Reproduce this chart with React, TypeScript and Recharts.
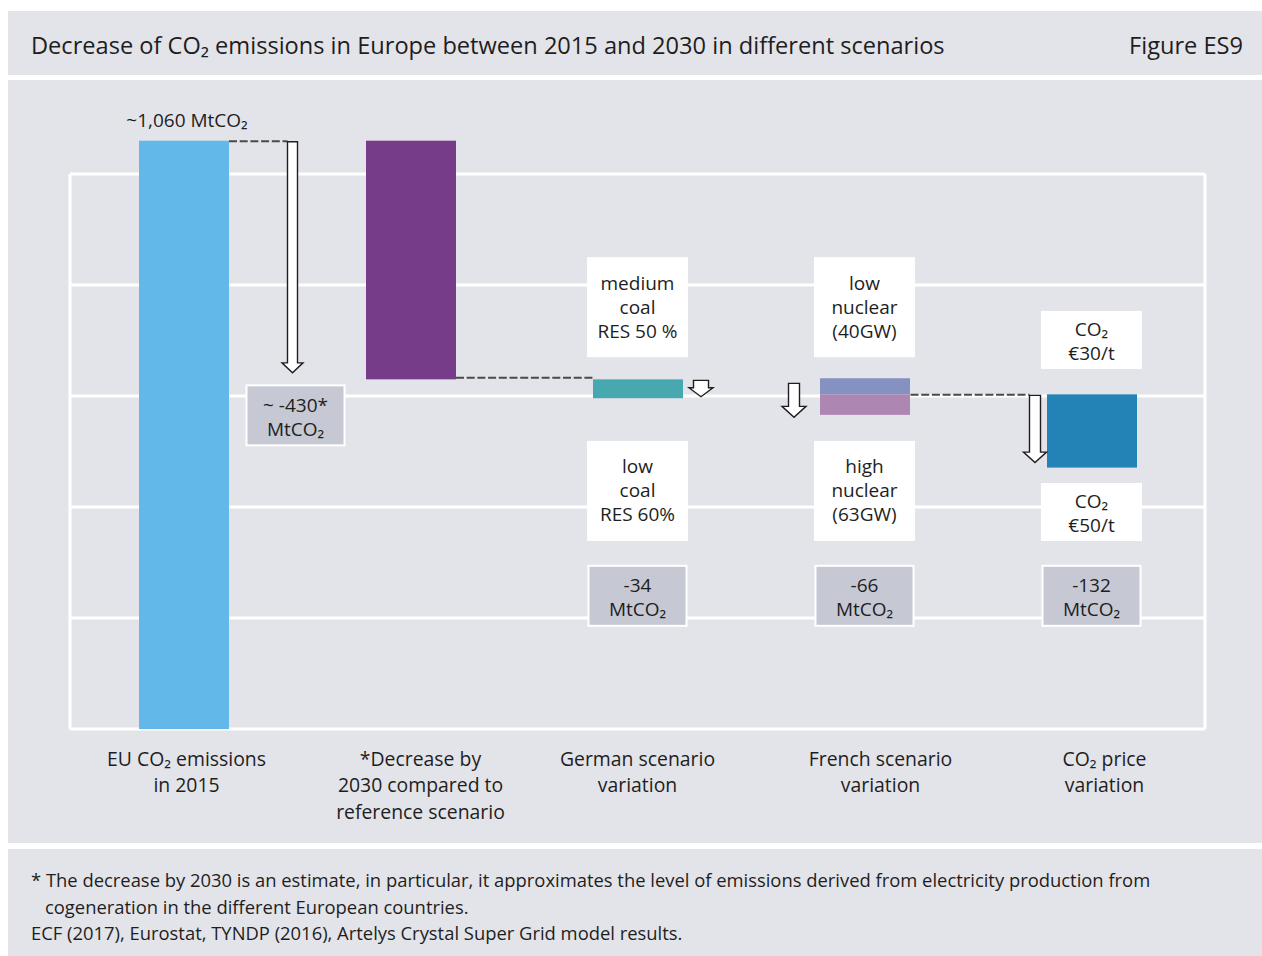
import React from 'react';
import { ComposedChart, Bar, XAxis, YAxis, ReferenceLine, ReferenceDot } from 'recharts';

// ---------- data ----------
const categoryKeys = ['eu2015', 'decrease2030', 'german', 'french', 'co2price'];
const categoryLabels = [
  ['EU CO₂ emissions', 'in 2015'],
  ['*Decrease by', '2030 compared to', 'reference scenario'],
  ['German scenario', 'variation'],
  ['French scenario', 'variation'],
  ['CO₂ price', 'variation'],
];
const baseValues = [0, 630, 596, 566, 471];
const lowerSegment = [1060, 430, 34, 37, 132];
const upperSegment = [0, 0, 0, 29, 0];
const deltaLabels = ['', '~ -430*', '-34', '-66', '-132'];
const upperScenario = [[], [], ['medium', 'coal', 'RES 50 %'], ['low', 'nuclear', '(40GW)'], ['CO₂', '€30/t']];
const lowerScenario = [[], [], ['low', 'coal', 'RES 60%'], ['high', 'nuclear', '(63GW)'], ['CO₂', '€50/t']];
const totalLabel = '~1,060 MtCO₂';
const unitLabel = 'MtCO₂';
const yTicks = [0, 200, 400, 600, 800, 1000];

const title = 'Decrease of CO₂ emissions in Europe between 2015 and 2030 in different scenarios';
const figureLabel = 'Figure ES9';
const footnote1 = '* The decrease by 2030 is an estimate, in particular, it approximates the level of emissions derived from electricity production from';
const footnote2 = 'cogeneration in the different European countries.';
const source = 'ECF (2017), Eurostat, TYNDP (2016), Artelys Crystal Super Grid model results.';

// ---------- styles ----------
const FONT = "'Open Sans', 'DejaVu Sans', sans-serif";
const PANEL = '#e3e4e9';
const TEXT = '#1e1e1e';
const lowerColors = ['#63b8ea', '#773c89', '#47a8b0', '#ae86b2', '#2383b7'];
const upperColors = ['none', 'none', 'none', '#8592c1', 'none'];
const DELTA_FILL = '#c6c8d4';
const TICK_NUDGE = [3, 10, 0, 16, 13];
// vertical anchor of annotation boxes (in value units)
const BOX_POS = { upper3: 760, lower3: 429, upper2: 701, lower2: 391, delta: 240 };

const data = categoryKeys.map((k, i) => ({
  key: k,
  base: baseValues[i],
  lower: lowerSegment[i],
  upper: upperSegment[i],
}));

function arrowPath(cx: number, top: number, tip: number, sw: number, hw: number, hh: number) {
  const s = sw / 2;
  const h = hw / 2;
  const b = tip - hh;
  return `M${cx - s},${top} L${cx + s},${top} L${cx + s},${b} L${cx + h},${b} L${cx},${tip} L${cx - h},${b} L${cx - s},${b} Z`;
}

const Arrow = (p: { cx: number; top: number; tip: number; sw: number; hw: number; hh: number }) => (
  <path d={arrowPath(p.cx, p.top, p.tip, p.sw, p.hw, p.hh)} fill="#fff" stroke={TEXT} strokeWidth={1.4} strokeLinejoin="miter" />
);

const Dash = (p: { x1: number; x2: number; y: number }) => (
  <line x1={p.x1} x2={p.x2} y1={p.y} y2={p.y} stroke="#4a4a4a" strokeWidth={2} strokeDasharray="8 2.7" />
);

const TextBox = (p: { cx: number; cy: number; w: number; h: number; lines: string[]; fill: string; stroke?: string }) => {
  const n = p.lines.length;
  const off = n === 2 ? 8.5 : 6.5;
  return (
    <g>
      <rect x={p.cx - p.w / 2} y={p.cy - p.h / 2} width={p.w} height={p.h} fill={p.fill} stroke={p.stroke || 'none'} strokeWidth={2} />
      {p.lines.map((l, i) => (
        <text key={i} x={p.cx} y={p.cy - ((n - 1) * 24) / 2 + i * 24 + off} textAnchor="middle" fontFamily={FONT} fontSize={19} fill={TEXT}>
          {l}
        </text>
      ))}
    </g>
  );
};

const renderLower = (props: any) => {
  const { x, y, width, height, index } = props;
  const fill = lowerColors[index];
  const parts: React.ReactNode[] = [<rect key="r" x={x} y={y} width={width} height={height} fill={fill} />];
  if (index === 0) {
    parts.push(
      <text key="t" x={x + width / 2 + 3} y={y - 14} textAnchor="middle" fontFamily={FONT} fontSize={19} fill={TEXT}>
        {totalLabel}
      </text>
    );
  }
  if (index === 1) {
    const acx = x - 73.5;
    parts.push(<Dash key="d1" x1={x - 137} x2={acx - 5} y={y + 0.5} />);
    parts.push(<Arrow key="a" cx={acx} top={y + 1} tip={y + height - 6.5} sw={10} hw={21} hh={10} />);
    parts.push(<Dash key="d2" x1={x + width} x2={x + width + 138} y={y + height - 1.5} />);
    parts.push(
      <TextBox key="b" cx={x - 70.5} cy={y + height + 36} w={98} h={60} lines={[deltaLabels[1], unitLabel]} fill={DELTA_FILL} stroke="#fff" />
    );
  }
  if (index === 2) {
    parts.push(<Arrow key="a" cx={x + width + 18} top={y + 1} tip={y + height - 1.5} sw={15} hw={24} hh={9} />);
  }
  if (index === 3) {
    parts.push(<Arrow key="a" cx={x - 26} top={y - 11} tip={y + height + 2.5} sw={11} hw={24} hh={11} />);
  }
  if (index === 4) {
    parts.push(<Dash key="d" x1={x - 136.5} x2={x - 17.5} y={y + 0.5} />);
    parts.push(<Arrow key="a" cx={x - 12} top={y + 1} tip={y + height - 5} sw={11} hw={23} hh={10.5} />);
  }
  return <g>{parts}</g>;
};

const renderUpper = (props: any) => {
  const { x, y, width, height, index } = props;
  if (!height || upperColors[index] === 'none') return <g />;
  return <rect x={x} y={y} width={width} height={height} fill={upperColors[index]} />;
};

const CategoryTick = (props: any) => {
  const { x, y, payload } = props;
  const i = categoryKeys.indexOf(payload.value);
  const lines = categoryLabels[i] || [];
  return (
    <g>
      {lines.map((l, k) => (
        <text key={k} x={x + TICK_NUDGE[i]} y={y + 36.5 + k * 26.5} textAnchor="middle" fontFamily={FONT} fontSize={19.4} fill={TEXT}>
          {l}
        </text>
      ))}
    </g>
  );
};

const boxShape = (lines: string[], w: number, h: number, fill: string, stroke?: string) => (p: any) => (
  <TextBox cx={p.cx} cy={p.cy} w={w} h={h} lines={lines} fill={fill} stroke={stroke} />
);

export default function App() {
  const dots: React.ReactNode[] = [];
  categoryKeys.forEach((k, i) => {
    if (upperScenario[i].length) {
      const three = upperScenario[i].length === 3;
      dots.push(
        <ReferenceDot key={'u' + k} x={k} y={three ? BOX_POS.upper3 : BOX_POS.upper2} r={1}
          shape={boxShape(upperScenario[i], 101, three ? 100 : 58, '#fff')} />
      );
    }
    if (lowerScenario[i].length) {
      const three = lowerScenario[i].length === 3;
      dots.push(
        <ReferenceDot key={'l' + k} x={k} y={three ? BOX_POS.lower3 : BOX_POS.lower2} r={1}
          shape={boxShape(lowerScenario[i], 101, three ? 100 : 58, '#fff')} />
      );
    }
    if (i >= 2) {
      dots.push(
        <ReferenceDot key={'d' + k} x={k} y={BOX_POS.delta} r={1}
          shape={boxShape([deltaLabels[i], unitLabel], 98, 60, DELTA_FILL, '#fff')} />
      );
    }
  });

  const zProps: any = { zIndex: -10 };

  return (
    <div style={{ position: 'absolute', left: 0, top: 0, width: 1262, height: 956, background: '#fff', overflow: 'hidden', fontFamily: FONT, color: TEXT }}>
      <div style={{ position: 'absolute', left: 8, top: 11, width: 1254, height: 64, background: PANEL }}>
        <div style={{ position: 'absolute', left: 23, top: 19, fontSize: 23.6, lineHeight: '30px', whiteSpace: 'nowrap' }}>{title}</div>
        <div style={{ position: 'absolute', right: 19, top: 19, fontSize: 23.6, lineHeight: '30px', whiteSpace: 'nowrap' }}>{figureLabel}</div>
      </div>
      <div style={{ position: 'absolute', left: 8, top: 80, width: 1254, height: 763, background: PANEL }}>
        <ComposedChart width={1254} height={763} data={data} margin={{ top: 38.5, right: 57, bottom: 14, left: 62 }} barSize={90}>
          <XAxis dataKey="key" height={100} tickLine={false} axisLine={false} tickSize={0} tickMargin={0} interval={0} tick={<CategoryTick />} />
          <YAxis hide type="number" domain={[0, 1100]} ticks={yTicks} />
          {yTicks.map((t) => (
            <ReferenceLine key={'g' + t} y={t} stroke="#fff" strokeWidth={3} {...zProps} />
          ))}
          <ReferenceLine segment={[{ x: categoryKeys[0], y: 0 }, { x: categoryKeys[0], y: 1000 }]} position="start" stroke="#fff" strokeWidth={3} {...zProps} />
          <ReferenceLine segment={[{ x: categoryKeys[4], y: 0 }, { x: categoryKeys[4], y: 1000 }]} position="end" stroke="#fff" strokeWidth={3} {...zProps} />
          <Bar dataKey="base" stackId="s" fill="transparent" isAnimationActive={false} />
          <Bar dataKey="lower" stackId="s" shape={renderLower} isAnimationActive={false} />
          <Bar dataKey="upper" stackId="s" shape={renderUpper} isAnimationActive={false} />
          {dots}
        </ComposedChart>
      </div>
      <div style={{ position: 'absolute', left: 8, top: 849, width: 1254, height: 107, background: PANEL, fontSize: 18.4, lineHeight: '26.5px' }}>
        <div style={{ position: 'absolute', left: 23, top: 18, whiteSpace: 'nowrap' }}>
          <div>{footnote1}</div>
          <div style={{ paddingLeft: 14 }}>{footnote2}</div>
          <div>{source}</div>
        </div>
      </div>
    </div>
  );
}
